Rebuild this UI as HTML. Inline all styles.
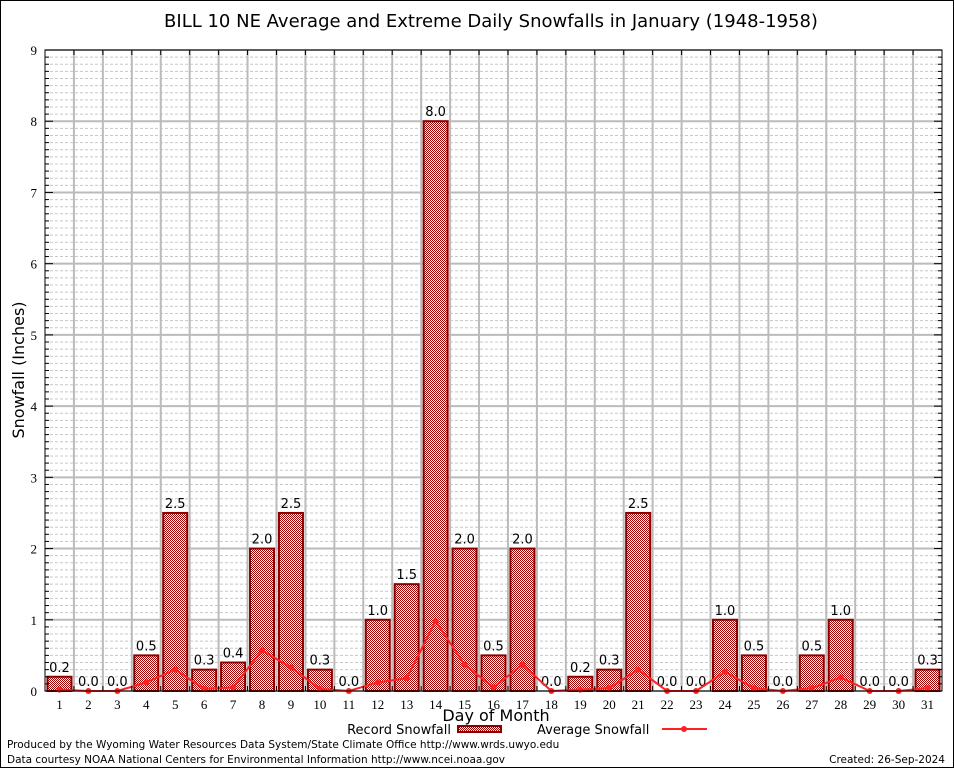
<!DOCTYPE html>
<html><head><meta charset="utf-8"><style>
body{margin:0;background:#fff}
svg{display:block}
</style></head><body>
<svg id="chart" width="954" height="768" xmlns="http://www.w3.org/2000/svg" font-family="'DejaVu Sans','Liberation Sans',sans-serif">
<defs>
<pattern id="chk" width="2" height="2" patternUnits="userSpaceOnUse">
<rect width="2" height="2" fill="#fff"/>
<rect width="1" height="1" fill="#a00000"/>
<rect x="1" y="1" width="1" height="1" fill="#a00000"/>
</pattern>
</defs>
<rect x="0.5" y="0.5" width="953" height="767" fill="#fff" stroke="#000"/>
<text x="491" y="27" text-anchor="middle" font-size="18">BILL 10 NE Average and Extreme Daily Snowfalls in January (1948-1958)</text>
<g id="grid"></g>
<g id="bars"></g>
<g id="line"></g>
<g id="axes"></g>
<text x="24" y="370" text-anchor="middle" font-size="16" transform="rotate(-90 24 370)">Snowfall (Inches)</text>
<text x="496" y="721" text-anchor="middle" font-size="16">Day of Month</text>
<g>
<text x="451" y="734" text-anchor="end" font-size="13">Record Snowfall</text>
<rect x="458" y="726" width="43" height="6" fill="url(#chk)" stroke="#8b0000" stroke-width="2"/>
<text x="537" y="734" font-size="13">Average Snowfall</text>
<line x1="662" y1="729" x2="707" y2="729" stroke="#ff2020" stroke-width="2"/>
<circle cx="684" cy="729" r="3" fill="#ff2020"/>
</g>
<text x="7" y="748" font-size="10.5">Produced by the Wyoming Water Resources Data System/State Climate Office http://www.wrds.uwyo.edu</text>
<text x="7" y="763" font-size="10.5">Data courtesy NOAA National Centers for Environmental Information http://www.ncei.noaa.gov</text>
<text x="945" y="763" text-anchor="end" font-size="10.5">Created: 26-Sep-2024</text>
</svg>
<script>
const days=[1,2,3,4,5,6,7,8,9,10,11,12,13,14,15,16,17,18,19,20,21,22,23,24,25,26,27,28,29,30,31];
const recordValues=[0.2,0,0,0.5,2.5,0.3,0.4,2.0,2.5,0.3,0,1.0,1.5,8.0,2.0,0.5,2.0,0,0.2,0.3,2.5,0,0,1.0,0.5,0,0.5,1.0,0,0,0.3];
const averageValues=[0.02,0,0,0.12,0.3,0.03,0.05,0.57,0.33,0.03,0,0.12,0.18,0.98,0.37,0.05,0.37,0,0.02,0.04,0.3,0,0,0.27,0.04,0,0.04,0.19,0,0,0.04];
const yTicks=[0,1,2,3,4,5,6,7,8,9];

const NS="http://www.w3.org/2000/svg";
const L=45,R=942,T=50,B=691,yMax=9;
const band=(R-L)/days.length;
function xs(i){return L+band*(i+0.5);}
function ys(v){return B-(v/yMax)*(B-T);}
function mk(tag,attrs,parent,text){const e=document.createElementNS(NS,tag);for(const k in attrs)e.setAttribute(k,attrs[k]);if(text!==undefined)e.textContent=text;parent.appendChild(e);return e;}
const grid=document.getElementById('grid'),bars=document.getElementById('bars'),line=document.getElementById('line'),axes=document.getElementById('axes');

for(let m=1;m<yMax*10;m++){if(m%10===0)continue;const y=ys(m/10);
 const e=mk('line',{x1:L,x2:R,y1:y,y2:y,stroke:'#c8c8c8','stroke-dasharray':'3,2','stroke-width':1},grid);
 
 
 mk('line',{x1:L,x2:L+4,y1:y,y2:y,stroke:'#000'},axes);
 mk('line',{x1:R-4,x2:R,y1:y,y2:y,stroke:'#000'},axes);
}
yTicks.forEach(v=>{const y=ys(v);
 const g=mk('line',{x1:L,x2:R,y1:y,y2:y,stroke:'#bbbbbb','stroke-width':2},grid);
 
 
 mk('line',{x1:L,x2:L+8,y1:y,y2:y,stroke:'#000'},axes);
 mk('line',{x1:R-8,x2:R,y1:y,y2:y,stroke:'#000'},axes);
 const t=mk('text',{x:37,y:y+5,'text-anchor':'end','font-size':13,'font-family':"'Liberation Serif',serif"},axes,String(v));
 
 
});
for(let i=1;i<days.length;i++){const x=L+band*i;
 const g=mk('line',{x1:x,x2:x,y1:T,y2:B,stroke:'#bbbbbb','stroke-width':2},grid);
 
 
 mk('line',{x1:x,x2:x,y1:B-5,y2:B,stroke:'#000'},axes);
 mk('line',{x1:x,x2:x,y1:T,y2:T+5,stroke:'#000'},axes);
}
days.forEach((d,i)=>{const v=recordValues[i];const x=xs(i),bw=24;
 if(v>0){const r=mk('rect',{x:x-bw/2,y:ys(v),width:bw,height:B-ys(v),fill:'url(#chk)',stroke:'#8b0000','stroke-width':2},bars);
  
  }
 const t=mk('text',{x:x,y:ys(v)-5,'text-anchor':'middle','font-size':13},bars,v.toFixed(1));
 
 
 const xl=mk('text',{x:x,y:709,'text-anchor':'middle','font-size':13,'font-family':"'Liberation Serif',serif"},axes,String(d));
 
 
});
const pts=averageValues.map((v,i)=>xs(i)+','+ys(v)).join(' ');
const pl=mk('polyline',{points:pts,fill:'none',stroke:'#ff2020','stroke-width':2},line);


averageValues.forEach((v,i)=>{const c=mk('circle',{cx:xs(i),cy:ys(v),r:3,fill:'#ff2020'},line);
 
 });
const f=mk('rect',{x:L,y:T,width:R-L,height:B-T,fill:'none',stroke:'#000','stroke-width':1},axes);


</script>
</body></html>
